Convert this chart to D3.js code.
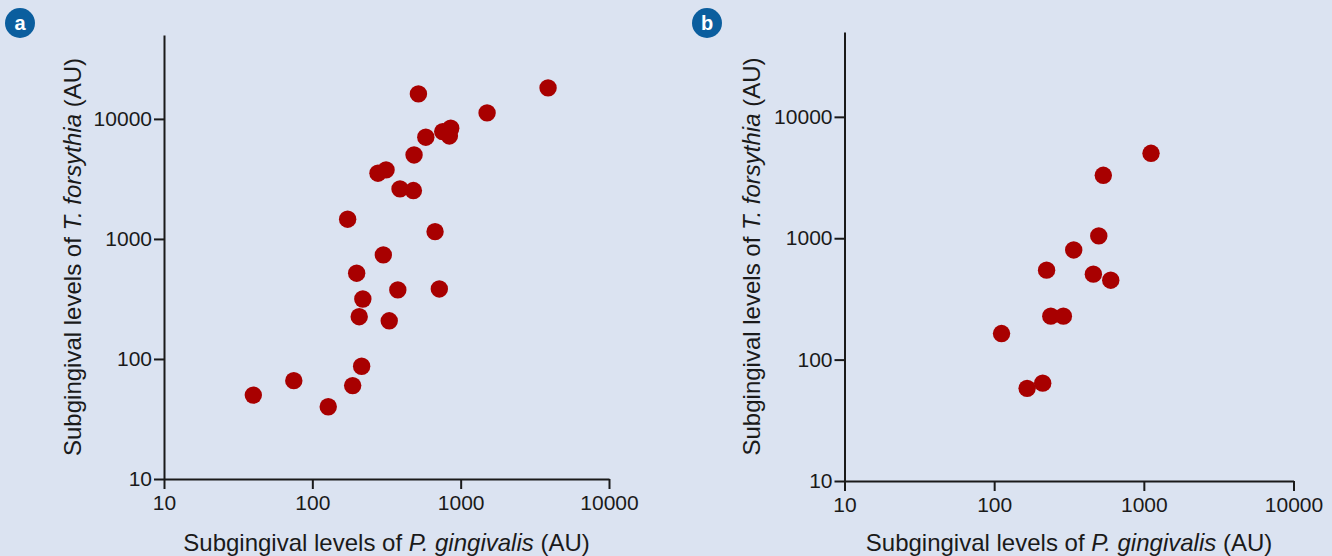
<!DOCTYPE html>
<html>
<head>
<meta charset="utf-8">
<script src="https://cdn.jsdelivr.net/npm/d3@7"></script>
<style>
  body { margin: 0; background: #dbe3f1; }
  svg { display: block; font-family: "Liberation Sans", Arial, sans-serif; }
  .axis path, .axis line { stroke: #1a1a1a; stroke-width: 2; }
  .axis text { fill: #1a1a1a; font-size: 21px; }
</style>
</head>
<body>
<div id="chart"></div>
<script>
const width = 1332;
const height = 556;

// values (arbitrary units)
const panelAPg = [519, 1507, 3883, 582, 757, 857, 839, 485, 277, 314, 390, 480, 173, 672,
  301, 199, 377, 718, 219, 207, 330, 215, 75, 40, 187, 128];
const panelATf = [16150, 11220, 18130, 7040, 7840, 8360, 7210, 5010, 3530, 3760, 2610, 2530, 1460, 1150,
  736, 518, 376, 383, 316, 225, 208, 87, 66, 50, 60, 40];

const panelBPg = [1117, 536, 500, 340, 224, 460, 601, 239, 290, 112, 166, 211];
const panelBTf = [5010, 3300, 1045, 801, 546, 506, 451, 228, 228, 164, 58, 64];

const tickValues = [10, 100, 1000, 10000];
const xDomain = [10, 10000];
const yDomain = [10, 50000];

const panels = [
  { label: 'a', xs: panelAPg, ys: panelATf, x0: 164, x1: 609, yBottom: 479, yTop: 35, titleX: 73, badge: [20, 23] },
  { label: 'b', xs: panelBPg, ys: panelBTf, x0: 844.5, x1: 1293.5, yBottom: 481, yTop: 32, titleX: 752, badge: [707, 23] }
];

const svg = d3.select('#chart')
  .append('svg')
  .attr('width', width)
  .attr('height', height);

svg.append('rect')
  .attr('width', width)
  .attr('height', height)
  .attr('fill', '#dbe3f1');

for (const p of panels) {
  const x = d3.scaleLog().domain(xDomain).range([p.x0, p.x1]);
  const y = d3.scaleLog().domain(yDomain).range([p.yBottom, p.yTop]);
  const g = svg.append('g');

  // points
  g.append('g')
    .selectAll('circle')
    .data(p.xs.map((v, i) => [v, p.ys[i]]))
    .join('circle')
    .attr('cx', (d) => x(d[0]))
    .attr('cy', (d) => y(d[1]))
    .attr('r', 8.7)
    .attr('fill', '#a80000');

  // axes
  g.append('g')
    .attr('class', 'axis')
    .attr('transform', `translate(0,${p.yBottom})`)
    .call(d3.axisBottom(x).tickValues(tickValues).tickFormat(d3.format('d'))
      .tickSize(10).tickSizeOuter(0).tickPadding(6));

  g.append('g')
    .attr('class', 'axis')
    .attr('transform', `translate(${p.x0},0)`)
    .call(d3.axisLeft(y).tickValues(tickValues).tickFormat(d3.format('d'))
      .tickSize(10).tickSizeOuter(0).tickPadding(2));

  // x title
  const xt = g.append('text')
    .attr('x', (p.x0 + p.x1) / 2)
    .attr('y', 551)
    .attr('text-anchor', 'middle')
    .attr('font-size', 24)
    .attr('fill', '#1a1a1a');
  xt.append('tspan').text('Subgingival levels of ');
  xt.append('tspan').attr('font-style', 'italic').text('P. gingivalis');
  xt.append('tspan').text(' (AU)');

  // y title
  const yt = g.append('text')
    .attr('transform', `translate(${p.titleX},${(p.yBottom + p.yTop) / 2}) rotate(-90)`)
    .attr('text-anchor', 'middle')
    .attr('dy', '0.35em')
    .attr('font-size', 24)
    .attr('fill', '#1a1a1a');
  yt.append('tspan').text('Subgingival levels of ');
  yt.append('tspan').attr('font-style', 'italic').text('T. forsythia');
  yt.append('tspan').text(' (AU)');

  // panel badge
  svg.append('circle')
    .attr('cx', p.badge[0])
    .attr('cy', p.badge[1])
    .attr('r', 15)
    .attr('fill', '#0b5e9e');
  svg.append('text')
    .attr('x', p.badge[0])
    .attr('y', p.badge[1])
    .attr('dy', '0.36em')
    .attr('text-anchor', 'middle')
    .attr('font-size', 20)
    .attr('font-weight', 'bold')
    .attr('fill', '#fff')
    .text(p.label);
}
</script>
</body>
</html>
